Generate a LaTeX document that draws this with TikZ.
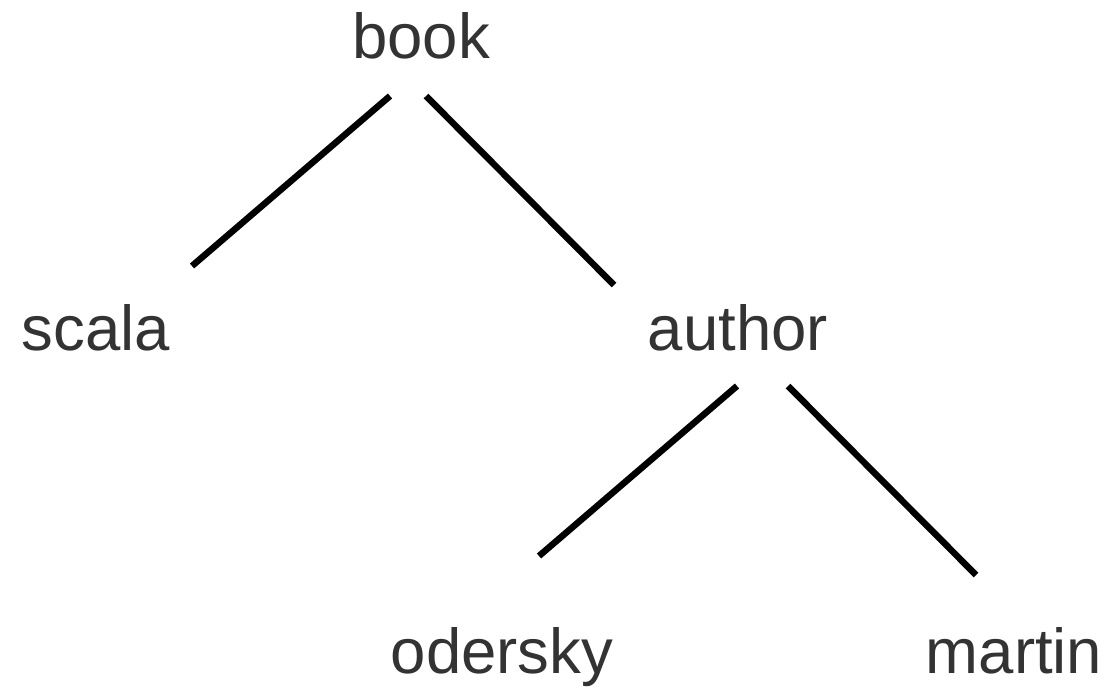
\documentclass[tikz,border=0pt]{standalone}
\usepackage{fontspec}
\setmainfont{Liberation Sans}
\definecolor{txt}{HTML}{333333}
\begin{document}
\begin{tikzpicture}[x=1pt,y=-1pt,
  lbl/.style={anchor=base,inner sep=0pt,text=txt,font=\fontsize{63.5}{70}\selectfont},
  edge/.style={line width=6.5pt,black}]
\useasboundingbox (0,0) rectangle (1113,690);
\node[lbl] (book) at (421,59) {book};
\node[lbl] (scala) at (96,350) {scala};
\node[lbl] (author) at (738,350) {author};
\node[lbl] (odersky) at (502,673) {odersky};
\node[lbl] (martin) at (1014,673) {martin};
\coordinate (b1) at (390,96);
\coordinate (s1) at (192,266);
\coordinate (b2) at (426,96);
\coordinate (a1) at (614,285);
\coordinate (a2) at (737,386);
\coordinate (o1) at (539,556);
\coordinate (a3) at (788,386);
\coordinate (m1) at (976,575);
\draw[edge] (b1) -- (s1);
\draw[edge] (b2) -- (a1);
\draw[edge] (a2) -- (o1);
\draw[edge] (a3) -- (m1);
\end{tikzpicture}
\end{document}
